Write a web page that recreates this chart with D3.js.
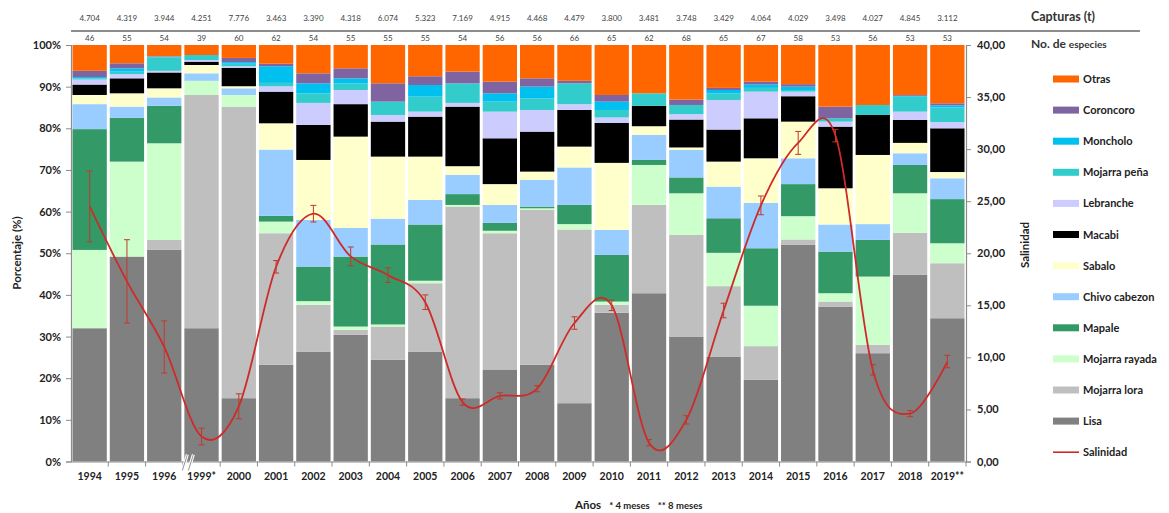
<!DOCTYPE html>
<html><head><meta charset="utf-8">
<script src="https://cdn.jsdelivr.net/npm/d3@7"></script>
<style>body{margin:0;background:#fff} text{font-family:Lato,"Open Sans",sans-serif}</style>
</head><body><svg id="c" width="1169" height="513"></svg>
<script>
const years = ["1994","1995","1996","1999*","2000","2001","2002","2003","2004","2005","2006","2007","2008","2009","2010","2011","2012","2013","2014","2015","2016","2017","2018","2019**"];
const capturas = [4704,4319,3944,4251,7776,3463,3390,4318,6074,5323,7169,4915,4468,4479,3800,3481,3748,3429,4064,4029,3498,4027,4845,3112];
const especies = [46,55,54,39,60,62,54,55,55,55,54,56,56,66,65,62,68,65,67,58,53,56,53,53];

const lisa          = [32.0,49.2,50.8,32.0,15.2,23.2,26.4,30.4,24.4,26.4,15.2,22.1,23.2,14.0,35.7,40.4,30.0,25.2,19.6,52.0,37.2,26.0,44.8,34.4];
const mojarraLora   = [0.0,0.0,2.4,56.0,70.0,31.6,11.2,1.2,8.0,16.4,46.0,32.7,37.2,41.7,1.9,21.2,24.4,16.9,8.1,1.3,1.2,2.0,10.1,13.2];
const mojarraRayada = [18.8,22.8,23.2,3.4,2.8,2.8,0.9,0.8,0.5,0.6,0.4,0.6,0.4,1.3,0.8,9.6,10.0,8.0,9.7,5.6,2.0,16.4,9.5,4.8];
const mapale        = [29.0,10.5,9.0,0.0,0.0,1.4,8.3,16.8,19.2,13.5,2.6,1.9,0.4,4.6,11.2,1.2,3.8,8.3,13.8,7.7,10.0,8.8,6.8,10.6];
const chivoCabezon  = [6.0,2.7,2.0,1.8,1.6,15.9,11.2,6.9,6.2,5.9,4.6,4.3,6.4,9.0,6.0,6.0,6.6,7.6,10.9,6.2,6.5,3.8,2.8,5.0];
const sabalo        = [2.2,3.2,2.2,2.0,0.5,6.3,14.4,21.9,14.9,10.4,2.1,5.0,2.0,5.0,16.1,2.1,0.6,6.0,10.7,8.8,8.7,16.6,2.5,1.5];
const macabi        = [2.5,3.6,3.8,0.8,4.4,7.6,8.4,7.8,8.4,9.6,14.3,11.0,9.6,8.8,9.6,4.9,6.7,7.7,9.6,6.1,14.8,9.6,5.5,10.5];
const lebranche     = [1.2,1.0,0.4,0.4,0.4,1.3,5.3,3.4,1.6,1.2,0.9,6.4,5.2,1.4,1.3,0.0,1.3,7.1,6.4,1.1,1.2,0.0,2.0,1.5];
const mojarraPena   = [0.3,0.6,3.2,1.2,0.6,0.8,2.3,1.6,3.2,3.6,4.7,2.4,2.8,5.0,1.8,3.0,2.2,1.6,0.9,0.4,0.8,2.4,3.6,3.5];
const moncholo      = [0.3,0.8,0.2,0.0,0.4,4.0,2.4,1.2,0.0,2.8,0.0,2.0,2.8,0.0,2.0,0.0,0.0,0.8,0.8,0.8,0.0,0.0,0.2,0.5];
const coroncoro     = [1.5,1.2,0.1,0.0,1.0,0.6,2.4,2.4,4.4,2.1,2.8,2.8,2.0,0.6,1.6,0.0,1.3,0.5,0.7,0.6,2.8,0.0,0.2,0.5];
const otras         = [6.2,4.4,2.7,2.4,3.1,4.5,6.8,5.6,9.2,7.5,6.4,8.8,8.0,8.6,12.0,11.6,13.1,10.3,8.8,9.4,14.8,14.4,12.0,14.0];

const salinidad     = [24.5,17.3,11.0,2.4,5.3,18.7,23.8,19.7,17.9,15.3,5.7,6.3,7.0,13.3,15.0,1.8,4.0,14.5,24.6,30.6,31.3,8.8,4.6,9.6];
const salinidadErr  = [3.4,4.0,2.5,0.8,1.2,0.6,0.8,0.9,0.7,0.7,0.3,0.3,0.3,0.6,0.5,0.3,0.4,0.7,0.9,1.1,0.6,0.5,0.3,0.6];

const seriesNames = ["Lisa","Mojarra lora","Mojarra rayada","Mapale","Chivo cabezon","Sabalo","Macabi","Lebranche","Mojarra peña","Moncholo","Coroncoro","Otras"];
const seriesData  = [lisa,mojarraLora,mojarraRayada,mapale,chivoCabezon,sabalo,macabi,lebranche,mojarraPena,moncholo,coroncoro,otras];
const seriesColors= ["#808080","#bfbfbf","#ccffcc","#339966","#99ccff","#ffffcc","#000000","#ccccff","#33cccc","#00c0f0","#8064a2","#ff6600"];

const leftTicks = [0,0.1,0.2,0.3,0.4,0.5,0.6,0.7,0.8,0.9,1];
const rightTicks = [0,5,10,15,20,25,30,35,40];

const locale = d3.formatLocale({decimal:",",thousands:".",grouping:[3],currency:["",""]});
const fmtThousands = locale.format(",");
const fmt2 = locale.format(".2f");

const svg = d3.select("#c");
const L = 71, R = 966, T = 45, B = 461.5;

const table = years.map((y,i)=>{const o={year:y}; seriesNames.forEach((n,k)=>o[n]=seriesData[k][i]); return o;});
const stack = d3.stack().keys(seriesNames).offset(d3.stackOffsetExpand)(table);

const x = d3.scaleBand().domain(years).range([L,R]).paddingInner(0.08).paddingOuter(0.04);
const y = d3.scaleLinear().domain([0,1]).range([B,T]);
const y2 = d3.scaleLinear().domain([0,40]).range([B,T]);

// bars
svg.append("g").selectAll("g").data(stack).join("g")
  .attr("fill",(d,i)=>seriesColors[i])
  .selectAll("rect").data(d=>d).join("rect")
  .attr("x",d=>x(d.data.year)).attr("width",x.bandwidth())
  .attr("y",d=>y(d[1])).attr("height",d=>Math.max(0,y(d[0])-y(d[1])));

// axes
const axL = svg.append("g").attr("transform",`translate(${L},0)`)
  .call(d3.axisLeft(y).tickValues(leftTicks).tickFormat(d3.format(".0%")).tickSize(5).tickPadding(5));
const axR = svg.append("g").attr("transform",`translate(${R},0)`)
  .call(d3.axisRight(y2).tickValues(rightTicks).tickFormat(fmt2).tickSize(5).tickPadding(6));
const axB = svg.append("g").attr("transform",`translate(0,${B})`)
  .call(d3.axisBottom(x).tickSize(0).tickPadding(11));
[axL,axR,axB].forEach(a=>{
  a.select(".domain").attr("stroke","#8c8c8c").attr("stroke-width",1.2);
  a.selectAll(".tick line").attr("stroke","#8c8c8c");
  a.selectAll("text").attr("font-size",11).attr("font-weight","bold").attr("fill","#222");
});
axB.selectAll("text").attr("font-size",10.5);
// bottom tick marks between bars
svg.append("g").selectAll("line").data(years.slice(1)).join("line")
  .attr("x1",d=>x(d)-x.step()*0.04).attr("x2",d=>x(d)-x.step()*0.04)
  .attr("y1",B).attr("y2",B+5).attr("stroke","#8c8c8c");
svg.append("line").attr("x1",R).attr("x2",R).attr("y1",B).attr("y2",B+5).attr("stroke","#8c8c8c");

// axis break mark at 1999*
const bx = x("1999*");
const brk = svg.append("g");
[0,6].forEach(o=>{
  brk.append("line").attr("x1",bx+o-2).attr("y1",B+9).attr("x2",bx+o+3).attr("y2",B-7).attr("stroke","#fff").attr("stroke-width",3);
  brk.append("line").attr("x1",bx+o-2).attr("y1",B+9).attr("x2",bx+o+3).attr("y2",B-7).attr("stroke","#666").attr("stroke-width",0.7);
});

// salinity line
const cx = i=>x(years[i])+x.bandwidth()/2;
const red = "#cf2a2a";
svg.append("path").datum(salinidad)
  .attr("d",d3.line().x((d,i)=>cx(i)).y(d=>y2(d)).curve(d3.curveCatmullRom.alpha(0)))
  .attr("fill","none").attr("stroke",red).attr("stroke-width",1.8);
const eg = svg.append("g").attr("stroke","#c0392b").attr("stroke-width",1);
salinidad.forEach((v,i)=>{
  const e = salinidadErr[i], xc = cx(i);
  eg.append("line").attr("x1",xc).attr("x2",xc).attr("y1",y2(v+e)).attr("y2",y2(v-e));
  eg.append("line").attr("x1",xc-3).attr("x2",xc+3).attr("y1",y2(v+e)).attr("y2",y2(v+e));
  eg.append("line").attr("x1",xc-3).attr("x2",xc+3).attr("y1",y2(v-e)).attr("y2",y2(v-e));
});

// top numbers
svg.append("g").selectAll("text").data(capturas).join("text")
  .attr("x",(d,i)=>cx(i)).attr("y",21).attr("text-anchor","middle")
  .attr("font-size",8).attr("fill","#444").text(d=>fmtThousands(d));
svg.append("line").attr("x1",L).attr("x2",1140).attr("y1",31).attr("y2",31).attr("stroke","#8c8c8c").attr("stroke-width",2);
svg.append("g").selectAll("text").data(especies).join("text")
  .attr("x",(d,i)=>cx(i)).attr("y",41).attr("text-anchor","middle")
  .attr("font-size",8).attr("fill","#444").text(d=>d);
svg.append("text").attr("x",1031).attr("y",21).attr("font-size",12.5).attr("font-weight","bold").attr("fill","#333").text("Capturas (t)");
const ne = svg.append("text").attr("x",1031).attr("y",48).attr("font-weight","bold").attr("fill","#333");
ne.append("tspan").attr("font-size",12).text("No. de ");
ne.append("tspan").attr("font-size",10).text("especies");

// axis titles
svg.append("text").attr("transform","translate(21,253) rotate(-90)").attr("text-anchor","middle")
  .attr("font-size",11.5).attr("font-weight","bold").attr("fill","#222").text("Porcentaje (%)");
svg.append("text").attr("transform","translate(1029,245) rotate(-90)").attr("text-anchor","middle")
  .attr("font-size",11.5).attr("font-weight","bold").attr("fill","#222").text("Salinidad");
const xt = svg.append("text").attr("x",575).attr("y",509).attr("fill","#222");
xt.append("tspan").attr("font-size",11.5).attr("font-weight","bold").text("Años");
xt.append("tspan").attr("font-size",9.5).attr("font-weight","bold").attr("dx",8).text("* 4 meses");
xt.append("tspan").attr("font-size",9.5).attr("font-weight","bold").attr("dx",8).text("** 8 meses");

// legend
const legOrder = seriesNames.map((n,i)=>i).reverse();
const lg = svg.append("g");
legOrder.forEach((k,j)=>{
  const yy = 79 + j*31.1;
  lg.append("rect").attr("x",1053).attr("y",yy-3.5).attr("width",26).attr("height",7).attr("fill",seriesColors[k]);
  lg.append("text").attr("x",1083).attr("y",yy+4).attr("font-size",11).attr("font-weight","bold").attr("fill","#222").text(seriesNames[k]);
});
const ys = 79 + 12*31.1;
lg.append("line").attr("x1",1053).attr("x2",1079).attr("y1",ys).attr("y2",ys).attr("stroke",red).attr("stroke-width",1.6);
lg.append("text").attr("x",1083).attr("y",ys+4).attr("font-size",11).attr("font-weight","bold").attr("fill","#222").text("Salinidad");
</script></body></html>
